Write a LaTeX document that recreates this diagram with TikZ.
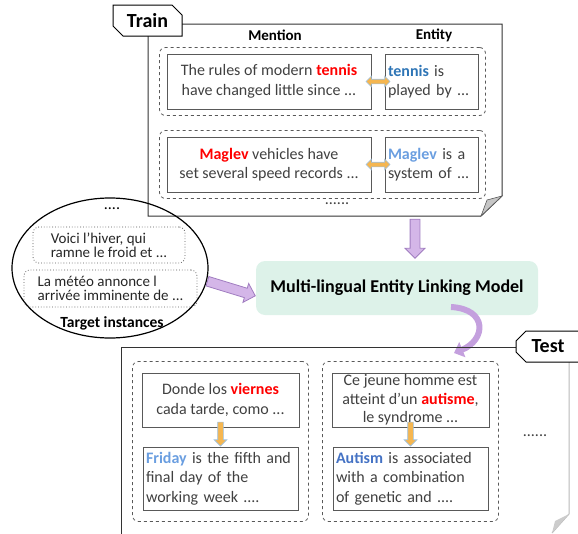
\documentclass[tikz,border=0pt]{standalone}
\usepackage{fontspec}
\setmainfont{Carlito}
\usetikzlibrary{fit}
\usetikzlibrary{positioning}
\usetikzlibrary{arrows.meta}
\usetikzlibrary{calc}
\usetikzlibrary{shapes.geometric}
\usetikzlibrary{shapes.arrows}
\usetikzlibrary{shapes.misc}

\definecolor{txtgray}{HTML}{404040}
\definecolor{linegray}{HTML}{595959}
\definecolor{mred}{HTML}{FF0000}
\definecolor{eblue}{HTML}{2E75B6}
\definecolor{lblue}{HTML}{6A9EE0}
\definecolor{ablue}{HTML}{4472C4}
\definecolor{modelgreen}{HTML}{DDF2E9}
\definecolor{arrowpurple}{HTML}{D4B6E8}
\definecolor{bendpurple}{HTML}{C4A0DE}
\definecolor{purpleline}{HTML}{A07CC0}
\definecolor{arroworange}{HTML}{F5B650}
\definecolor{orangeline}{HTML}{9CC2E5}

\newcommand{\ment}[1]{\textcolor{mred}{\textbf{#1}}}
\newcommand{\ent}[2][eblue]{\textcolor{#1}{\textbf{#2}}}

\tikzset{
    textbox/.style={draw=linegray, line width=1pt, inner sep=0pt, text=txtgray,
        font=\fontsize{16}{19.5}\selectfont},
    mentionbox/.style={textbox, align=center, minimum width=#1, minimum height=55pt},
    entitybox/.style={textbox, align=left, text width=#1, inner xsep=3pt, minimum height=55pt},
    pairbox/.style={draw=linegray, dashed, rounded corners=6pt, line width=0.8pt,
        inner xsep=7pt, inner ysep=6pt},
    instbox/.style={draw=linegray, dotted, rounded corners=6pt, line width=0.8pt,
        align=left, inner xsep=4pt, inner ysep=2pt, text=black!85,
        font=\fontsize{15}{14}\selectfont},
    header/.style={font=\fontsize{15}{17}\selectfont\bfseries},
    tabbox/.style={draw=black, line width=1pt, fill=white, chamfered rectangle,
        chamfered rectangle xsep=5pt, chamfered rectangle ysep=5pt,
        font=\fontsize{20}{22}\selectfont\bfseries},
    frame/.style={draw=black!80, line width=1pt},
    swaparrow/.style={double arrow, double arrow head extend=3pt, inner sep=2pt,
        minimum height=24pt, fill=arroworange, draw=orangeline, line width=0.6pt},
    downarrow/.style={single arrow, single arrow head extend=3.5pt, inner sep=2.5pt,
        minimum height=24pt, fill=arroworange, draw=orangeline, line width=0.6pt,
        rotate=-90, anchor=tip},
    purplearrow/.style={single arrow, single arrow head extend=5pt, inner sep=4.5pt,
        fill=arrowpurple, draw=purpleline, line width=0.8pt, anchor=tip},
    dots/.style={text=txtgray, font=\fontsize{16}{18}\selectfont}
}

\begin{document}
    \begin{tikzpicture}[x=1pt, y=-1pt]
        \useasboundingbox (0,0) rectangle (578,533);

        % train
        \draw[frame] (182,24) -- (502,24) -- (502,196) -- (481,216) -- (148,216) -- (148,36);
        \filldraw[fill=gray!45, draw=linegray, line width=0.6pt] (502,196) -- (487,200) -- (481,216) -- cycle;
        \node[tabbox, chamfered rectangle corners={north east,south west},
            minimum width=69pt, minimum height=31pt] (train) at (147.5,20.5) {Train};
        \node[header] (mention) at (275,35) {Mention};
        \node[header] (entity) at (434,35) {Entity};

        \node[mentionbox=204pt] (m1) at (269,81.5) {The rules of modern \ment{tennis}\\have changed little since ...};
        \node[entitybox=87pt, right=13pt of m1] (e1) {\ent{tennis} is\\played by ...};
        \node[pairbox, fit=(m1)(e1)] (g1) {};
        \node[swaparrow] (s1) at ($(m1.east)!0.5!(e1.west)$) {};

        \node[mentionbox=204pt] (m2) at (269,164.5) {\ment{Maglev} vehicles have\\set several speed records ...};
        \node[entitybox=87pt, right=13pt of m2] (e2) {\ent[lblue]{Maglev} is a\\system of ...};
        \node[pairbox, fit=(m2)(e2)] (g2) {};
        \node[swaparrow] (s2) at ($(m2.east)!0.5!(e2.west)$) {};
        \node[dots] (traindots) at (337,204) {......};

        % target instances
        \node[draw, ellipse, line width=1.2pt, minimum width=196pt, minimum height=140pt] (target) at (110,268) {};
        \node[dots, text=black] (targetdots) at (112,209) {....};
        \node[instbox, minimum width=152pt, minimum height=36pt] (i1) at (109,245) {Voici l’hiver, qui\\ramne le froid et ...};
        \node[instbox, minimum width=173pt, minimum height=37pt] (i2) at (110.5,288.5) {La météo annonce l\\arrivée imminente de ...};
        \node[header, font=\fontsize{15.5}{17}\selectfont\bfseries] (tlabel) at (112,323) {Target instances};

        % model
        \node[fill=modelgreen, rounded corners=9pt, minimum width=282pt, minimum height=54pt,
            font=\fontsize{18}{20}\selectfont\bfseries] (model) at (397,288) {Multi-lingual Entity Linking Model};
        \node[purplearrow, rotate=-90, minimum height=39pt] (p1) at ([xshift=18pt,yshift=2pt]model.north) {};
        \node[purplearrow, rotate=-17, minimum height=50pt] (p2) at ([yshift=-8pt]model.west) {};
        \coordinate (bendstart) at (451,307);
        \coordinate (bendend) at (454,353);
        \draw[bendpurple, line width=6pt, -{Triangle[length=9pt,width=16pt]}]
            (bendstart) .. controls (488,309) and (486,340) .. (bendend);

        % test
        \draw[frame] (580,347) -- (121,347) -- (121,540);
        \draw[gray!55, line width=1pt] (569,362) -- (569,514) -- (552,533);
        \fill[gray!40] (569,514) -- (555,521) -- (552,533) -- cycle;
        \node[tabbox, chamfered rectangle corners={north west,south west},
            minimum width=64pt, minimum height=31pt] (test) at (548,346.5) {Test};

        \node[mentionbox=157pt, minimum height=54pt] (tm1) at (220.5,400) {Donde los \ment{viernes}\\cada tarde, como ...};
        \node[entitybox=149pt, minimum height=63pt, below=19pt of tm1] (te1) {\ent[lblue]{Friday} is the fifth and\\final day of the\\working week ....};
        \node[pairbox, inner xsep=9pt, inner ysep=11pt, fit=(tm1)(te1)] (tg1) {};
        \node[downarrow] (d1) at (te1.north) {};

        \node[mentionbox=157pt, minimum height=54pt, font=\fontsize{16}{18.5}\selectfont] (tm2) at (410.5,400) {Ce jeune homme est\\atteint d'un \ment{autisme},\\le syndrome ...};
        \node[entitybox=149pt, minimum height=63pt, below=19pt of tm2] (te2) {\ent[ablue]{Autism} is associated\\with a combination\\of genetic and ....};
        \node[pairbox, inner xsep=9pt, inner ysep=11pt, fit=(tm2)(te2)] (tg2) {};
        \node[downarrow] (d2) at (te2.north) {};
        \node[dots] (testdots) at (535,436) {......};
    \end{tikzpicture}
\end{document}
